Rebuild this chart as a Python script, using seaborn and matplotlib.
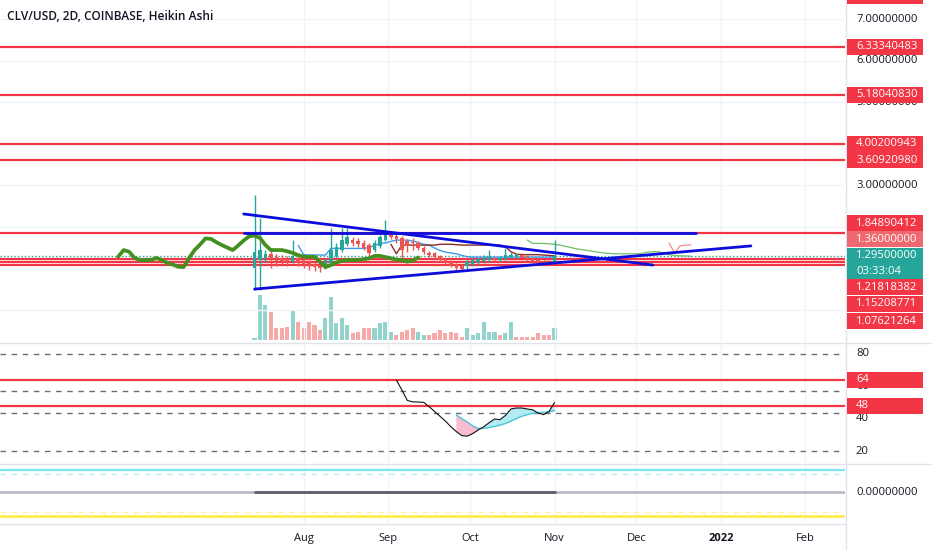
import numpy as np
import pandas as pd
import matplotlib
matplotlib.use("Agg")
import matplotlib.pyplot as plt
import matplotlib.dates as mdates
from matplotlib.patches import Rectangle
from matplotlib.lines import Line2D
import seaborn as sns

sns.set_theme(style="white")
plt.rcParams['font.family'] = ['Open Sans', 'DejaVu Sans']

# ---------------- data ----------------
start = pd.Timestamp('2021-07-14')
bar_dates = pd.date_range(start, periods=81, freq='2D')   # 2D bars (incl. 25 bars forward for Ichimoku cloud)
candle_dates = bar_dates[:56]

opens = [1.00,1.20,1.25,1.35,1.28,1.25,1.22,1.18,1.24,1.19,1.14,1.11,1.07,1.03,1.12,1.30,1.45,1.58,1.68,1.65,
         1.62,1.56,1.45,1.55,1.68,1.80,1.78,1.74,1.65,1.64,1.60,1.50,1.38,1.36,1.30,1.22,1.16,1.10,1.06,1.05,
         1.10,1.15,1.17,1.20,1.24,1.20,1.23,1.28,1.30,1.32,1.28,1.24,1.21,1.18,1.16,1.15]
closes = [1.39,1.44,1.35,1.22,1.18,1.17,1.15,1.30,1.14,1.10,1.07,1.03,1.00,1.20,1.44,1.52,1.68,1.75,1.62,1.58,
          1.50,1.36,1.60,1.75,1.85,1.76,1.70,1.45,1.55,1.60,1.50,1.40,1.32,1.27,1.20,1.14,1.08,1.02,0.98,1.15,
          1.20,1.22,1.25,1.28,1.20,1.25,1.33,1.32,1.34,1.26,1.22,1.18,1.16,1.15,1.14,1.30]
highs = [2.77,2.21,1.45,1.50,1.35,1.32,1.30,1.68,1.30,1.25,1.20,1.18,1.12,1.25,1.97,1.60,1.97,1.97,1.75,1.72,
         1.68,1.62,1.68,1.80,2.16,1.90,1.82,1.78,1.70,1.72,1.65,1.55,1.42,1.40,1.33,1.26,1.20,1.14,1.10,1.22,
         1.24,1.26,1.32,1.44,1.28,1.30,1.49,1.40,1.38,1.36,1.32,1.28,1.25,1.22,1.20,1.68]
lows = [0.48,0.48,1.15,1.00,1.05,1.08,1.06,1.12,1.05,1.00,0.95,0.93,0.92,0.98,1.08,1.25,1.40,1.55,1.55,1.52,
        1.45,1.30,1.40,1.50,1.65,1.70,1.60,1.25,1.40,1.45,1.45,1.35,1.28,1.22,1.15,1.10,1.04,0.96,0.94,0.98,
        1.06,1.10,1.12,1.15,1.15,1.16,1.20,1.24,1.26,1.22,1.18,1.14,1.12,1.10,1.10,1.12]
volume = [5,135,105,85,35,35,40,90,55,35,55,45,30,65,130,50,65,45,20,25,35,35,35,50,55,25,15,25,30,35,
          25,15,15,20,30,20,25,20,10,35,15,20,55,25,25,15,20,55,10,10,10,10,20,15,15,35]
volume_dir = list("TTTRRRRTRRRRRTTTTTRRRRTTTTRRRRTTRRRRRRRTTTTTTRTTRRRRRRRT")

lagging = [1.28,1.44,1.40,1.25,1.20,1.20,1.20,1.25,1.20,1.13,1.09,1.04,1.03,1.25,1.44,1.57,1.72,1.71,1.63,1.56,
           1.50,1.44,1.55,1.67,1.77,1.79,1.73,1.56,1.44,1.44,1.44,1.41,1.37,1.32,1.28,1.28,1.28,1.15,1.03,1.08,
           1.14,1.18,1.20,1.20,1.20,1.22,1.24,1.30,1.30,1.27,1.24,1.21,1.20,1.16,1.19,1.26]
lag_shift_days = 50
conversion = [1.55,1.33,1.32,1.32,1.32,1.32,1.48,1.48,1.48,1.48,1.48,1.48,1.48,
              1.50,1.55,1.60,1.61,1.65,1.68,1.68,1.68,1.66,1.62,1.58,1.56,1.49,1.43,1.39,1.37,1.35,1.31,1.28,
              1.27,1.27,1.27,1.27,1.27,1.27,1.27,1.27,1.27,1.27,1.27,1.27,1.27,1.27,1.27,1.27]   # bars 8..55
base = [1.58,1.35,1.56,1.56,1.56,1.56,1.56,1.56,1.56,1.58,1.58,1.58,1.57,1.56,1.56,1.56,1.56,1.56,1.56,1.56,
        1.56,1.52,1.40,1.34,1.33,1.33,1.33,1.33,1.32,1.31,1.30]                                 # bars 25..55
span_a = [1.68,1.60,1.60,1.60,1.59,1.58,1.56,1.53,1.50,1.47,1.45,1.43,1.41,1.39,1.37,1.36,1.35,1.35,1.35,1.35,
          1.35,1.36,1.39,1.40,1.40,1.37,1.33,1.31,1.30,1.30,1.29]                               # bars 50..80
span_b = [1.61,1.37,1.54,1.56,1.56]                                                             # bars 76..80

red_levels = [7.56, 6.33340483, 5.18040830, 4.00200943, 3.60920980, 1.84890412, 1.21818382, 1.15208771, 1.07621264]
last_price = 1.295
last_time = "03:33:04"
indicator_value = 1.36

trend_upper_dates = ['2021-07-10', '2021-12-07']; trend_upper = [2.31, 1.08]
trend_lower_dates = ['2021-07-14', '2022-01-12']; trend_lower = [0.50, 1.54]
trend_flat_dates = ['2021-07-10', '2021-12-23']; trend_flat = [1.849, 1.849]

rsi = [63.9,57.8,51.3,50.4,50.3,50.1,47.5,44.5,41.5,38.5,35.0,32.0,29.5,29.2,30.8,33.0,35.0,37.5,39.8,39.4,
       42.0,46.0,46.6,46.6,46.0,45.5,43.5,42.5,44.5,50.0]                                       # bars 26..55
rsi_ma = [42.3,40.0,38.0,35.5,34.0,34.0,34.5,35.2,36.0,37.0,38.5,40.0,41.5,42.5,43.3,43.8,44.0,44.2,45.0]  # bars 37..55
rsi_dashed = [80, 57, 43.3, 20]
rsi_red = [64, 48]

p3_cyan, p3_cyan_d, p3_yel_d, p3_yel = 1.0, 0.83, -0.87, -1.04

price_ticks = [7, 6, 5, 3]
month_dates = pd.to_datetime(['2021-08-01','2021-09-01','2021-10-01','2021-11-01','2021-12-01','2022-01-01','2022-02-01'])
month_labels = ['Aug', 'Sep', 'Oct', 'Nov', 'Dec', '2022', 'Feb']

# ---------------- colors ----------------
TEAL = '#26a69a'; RED = '#ef5350'; LINE_RED = '#f23645'; BLUE = '#0c0cdb'
GRID = '#f0f3fa'; SEP = '#e0e3eb'; TXT = '#131722'

# ---------------- layout ----------------
W, H = 932, 550
fig = plt.figure(figsize=(W/100, H/100), dpi=100)
fig.patch.set_facecolor('white')
def rect(x0, y0, x1, y1):
    return [x0/W, 1 - y1/H, (x1-x0)/W, (y1-y0)/H]
ax = fig.add_axes(rect(0, 0, 845, 342))
ax_r = fig.add_axes(rect(0, 343, 845, 463))
ax3 = fig.add_axes(rect(0, 464, 845, 523))

xlim = (mdates.date2num(pd.Timestamp('2021-04-11 16:00')), mdates.date2num(pd.Timestamp('2022-02-15 12:00')))
for a in (ax, ax_r, ax3):
    a.set_xlim(xlim)
    for s in a.spines.values():
        s.set_visible(False)
    a.set_xticks(month_dates)
    a.tick_params(length=0, labelleft=False, labelbottom=False)
    a.set_axisbelow(True)
    a.grid(True, axis='x', color=GRID, lw=1)
    a.set_facecolor('none')

# ---- main panel ----
ax.set_ylim(-0.775, 7.4655)
ax.set_yticks(range(0, 8))
ax.grid(True, axis='y', color=GRID, lw=1)

axv = ax.twinx()
axv.set_ylim(-6, 1026)
axv.set_zorder(ax.get_zorder() - 1)
ax.patch.set_visible(False)
axv.patch.set_facecolor('white')
vcol = ['#92d3cc' if d == 'T' else '#f7a9a7' for d in volume_dir]
axv.bar(candle_dates, volume, width=1.5, color=vcol, linewidth=0)
axv.set_yticks([]); axv.tick_params(length=0, labelright=False)
for s in axv.spines.values():
    s.set_visible(False)

for lv in red_levels:
    ax.axhline(lv, color=LINE_RED, lw=1.6, zorder=2)
ax.axhline(last_price, color=TEAL, lw=1, ls=(0, (1, 1.5)), zorder=2)

# Ichimoku thin lines
sns.lineplot(x=candle_dates[8:], y=conversion, ax=ax, color='#3d9cf0', lw=1.0, zorder=3)
sns.lineplot(x=candle_dates[25:], y=base, ax=ax, color='#8e2a2a', lw=1.0, zorder=3)
sns.lineplot(x=bar_dates[50:], y=span_a, ax=ax, color='#6cbf6a', lw=0.9, zorder=3)
sns.lineplot(x=bar_dates[76:], y=span_b, ax=ax, color='#f28b8b', lw=0.9, zorder=3)

# candles
cols = [TEAL if c >= o else RED for o, c in zip(opens, closes)]
ax.vlines(candle_dates, lows, highs, colors=cols, lw=1, zorder=4)
ax.bar(candle_dates, np.array(closes) - np.array(opens), bottom=opens, width=1.3,
       color=cols, linewidth=0, zorder=4)

# lagging span
sns.lineplot(x=candle_dates - pd.Timedelta(days=lag_shift_days), y=lagging, ax=ax,
             color='#44901f', lw=2.7, zorder=5)

# trend lines
for d, v in ((trend_upper_dates, trend_upper), (trend_lower_dates, trend_lower), (trend_flat_dates, trend_flat)):
    ax.plot(pd.to_datetime(d), v, color=BLUE, lw=2, zorder=6, solid_capstyle='round')

# ---- RSI panel ----
ax_r.set_ylim(12.6, 86.8)
ax_r.set_yticks([])
for lv in rsi_dashed:
    ax_r.axhline(lv, color='#6a6d78', lw=1, ls=(0, (4, 4)), zorder=2)
for lv in rsi_red:
    ax_r.axhline(lv, color=LINE_RED, lw=1.6, zorder=3)
rd = candle_dates[26:]
md = candle_dates[37:]
r_common = np.array(rsi[37-26:])
m_common = np.array(rsi_ma)
ax_r.fill_between(md, r_common, m_common, where=r_common >= m_common, interpolate=True,
                  color='#b2ebf2', lw=0, zorder=2)
ax_r.fill_between(md, r_common, m_common, where=r_common < m_common, interpolate=True,
                  color='#f8bbd0', lw=0, zorder=2)
sns.lineplot(x=md, y=rsi_ma, ax=ax_r, color='#4dc3d6', lw=1, zorder=4)
sns.lineplot(x=rd, y=rsi, ax=ax_r, color='#111111', lw=0.8, zorder=5)

# ---- third panel ----
ax3.set_ylim(-1.35, 1.26)
ax3.set_yticks([])
ax3.axhline(p3_cyan, color='#7fe3f0', lw=1.6)
ax3.axhline(p3_cyan_d, color='#b9eef5', lw=1, ls=(0, (4, 4)))
ax3.axhline(0, color='#b2b5be', lw=1.8)
ax3.plot([candle_dates[0], candle_dates[-1]], [0, 0], color='#5d606b', lw=2)
ax3.axhline(p3_yel_d, color='#fff3a0', lw=1, ls=(0, (4, 4)))
ax3.axhline(p3_yel, color='#ffeb3b', lw=1.8)

ax3.tick_params(labelbottom=True, pad=7)
ax3.set_xticklabels(month_labels, fontsize=8, color=TXT)
for lab in ax3.get_xticklabels():
    if lab.get_text() == '2022':
        lab.set_fontweight('bold')

# ---------------- separators ----------------
def fl(x0, y0, x1, y1, c=SEP, lw=1):
    fig.add_artist(Line2D([x0/W, x1/W], [1-y0/H, 1-y1/H], color=c, lw=lw, transform=fig.transFigure))
fl(845.5, 0, 845.5, 550)
fl(0, 342.5, 932, 342.5)
fl(0, 463.5, 932, 463.5)
fl(0, 523.5, 845.5, 523.5)

# ---------------- right scale labels ----------------
def ypx(a, v):
    return H - a.transData.transform((0, v))[1]

LX = 856
FS = 8.1
def label_text(y, s, color=TXT, bold=False):
    fig.text(LX/W, 1 - y/H, s, fontsize=FS, color=color, va='center', ha='left',
             fontweight='bold' if bold else 'normal', zorder=10)

def box(yc, h, color, lines):
    fig.add_artist(Rectangle((847/W, 1-(yc+h/2)/H), 76/W, h/H, transform=fig.transFigure,
                             facecolor=color, edgecolor='none', zorder=11))
    n = len(lines)
    for k, s in enumerate(lines):
        yy = yc - h/2 + (k + 0.5) * h / n
        fig.text(LX/W, 1 - yy/H, s, fontsize=FS, color='white', va='center', ha='left', zorder=12)

for t in price_ticks:
    label_text(ypx(ax, t), f"{t:.8f}")
for lv in red_levels[:5]:
    box(ypx(ax, lv), 16, LINE_RED, [f"{lv:.8f}"])
# stacked cluster near current price
cluster_y = [223, 239, 263.5, 287, 304, 321]
box(cluster_y[0], 16, LINE_RED, [f"{red_levels[5]:.8f}"])
box(cluster_y[1], 16, '#ee6a70', [f"{indicator_value:.8f}"])
box(cluster_y[2], 31, TEAL, [f"{last_price:.8f}", last_time])
box(cluster_y[3], 16, LINE_RED, [f"{red_levels[6]:.8f}"])
box(cluster_y[4], 16, LINE_RED, [f"{red_levels[7]:.8f}"])
box(cluster_y[5], 16, LINE_RED, [f"{red_levels[8]:.8f}"])

for t in (80, 60, 40, 20):
    label_text(ypx(ax_r, t), f"{t}")
for lv in rsi_red:
    box(ypx(ax_r, lv), 16, LINE_RED, [f"{lv}"])
label_text(ypx(ax3, 0), "0.00000000")

# title
fig.text(7/W, 1 - 16/H, "CLV/USD, 2D, COINBASE, Heikin Ashi", fontsize=8.6, fontweight='semibold',
         color=TXT, va='center', ha='left')

fig.savefig("out.png", dpi=100)
